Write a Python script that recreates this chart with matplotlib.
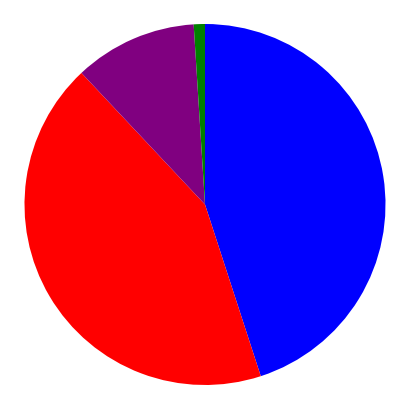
import matplotlib
matplotlib.use("Agg")
import matplotlib.pyplot as plt

labels = ["Blue", "Red", "Purple", "Green"]
values = [45, 43, 11, 1]
colors = ["#0000ff", "#ff0000", "#800080", "#008000"]

fig = plt.figure(figsize=(4.11, 4.20), dpi=100)
ax = fig.add_axes([24.5/411, 35/420, 361/411, 361/420])
ax.pie(values, colors=colors, startangle=90, counterclock=False,
       wedgeprops=dict(linewidth=0))
ax.set_aspect("equal")
ax.set_xlim(-1, 1)
ax.set_ylim(-1, 1)
ax.axis("off")
fig.savefig("out.png", dpi=100)
